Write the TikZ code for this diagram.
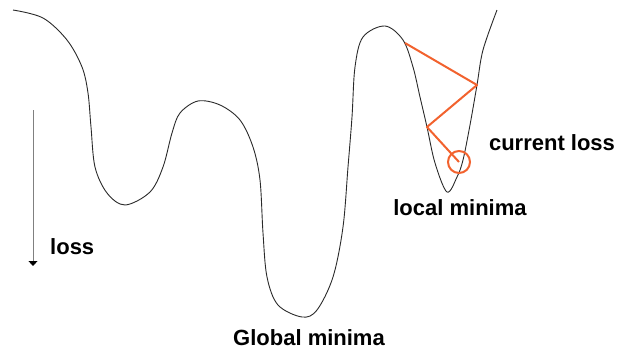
\documentclass[tikz,border=0pt]{standalone}
\usepackage{fontspec}
\setmainfont{Liberation Sans}
\usepackage{tikz}
\usetikzlibrary{
  arrows.meta,
  positioning
}
\definecolor{ink}{HTML}{2A2A2A}
\definecolor{axisgrey}{HTML}{808080}
\definecolor{hop}{HTML}{F2622E}
\tikzset{
  landscape/.style={
    draw=ink,
    line width=0.9pt
  },
  hoppath/.style={
    draw=hop,
    line width=2pt,
    line join=round
  },
  marker/.style={
    circle,
    draw=hop,
    line width=2pt,
    minimum size=22pt,
    inner sep=0pt
  },
  lossarrow/.style={
    -{Triangle[width=9pt,length=5pt,color=black]},
    draw=axisgrey,
    line width=0.9pt
  },
  tag/.style={
    font=\fontsize{22}{24}\selectfont\bfseries,
    inner sep=0pt
  }
}

\begin{document}
\begin{tikzpicture}[x=1pt, y=-1pt]
  \useasboundingbox (0,0) rectangle (619,354);

  % Loss surface.
  \draw[landscape] plot[smooth, tension=0.55] coordinates {
    (13,10) (43,18) (67,40) (82,67) (88,93) (91,127) (95,167)
    (107,193) (125,205) (150,192) (163,167) (172,133) (180,113)
    (198,101) (220,105) (240,120) (253,147) (260,180) (263,233)
    (267,277) (278,305) (302,317) (317,310) (333,277) (343,227)
    (348,167) (352,117) (355,67) (363,37) (385,26) (403,40)
    (413,67) (420,97) (427,127) (435,163) (447,192) (457,177)
    (463,160) (470,125) (477,85) (483,50) (497,10)
  };

  % Steps down the valley.
  \coordinate (hopa) at (405,43);
  \coordinate (hopb) at (477,85);
  \coordinate (hopc) at (427,127);
  \node[marker] (current) at (459,162) {};
  \draw[hoppath] (hopa) -- (hopb) -- (hopc) -- (current.center);

  % Loss direction.
  \coordinate (losstop) at (33,110);
  \coordinate (lossbottom) at (33,266);
  \draw[lossarrow] (losstop) -- (lossbottom);

  % Labels.
  \node[tag, anchor=west] (losslabel) at (50,247) {loss};
  \node[tag] (currentlabel) at (552,143) {current loss};
  \node[tag] (locallabel) at (460,208) {local minima};
  \node[tag] (globallabel) at (309,338) {Global minima};
\end{tikzpicture}
\end{document}
